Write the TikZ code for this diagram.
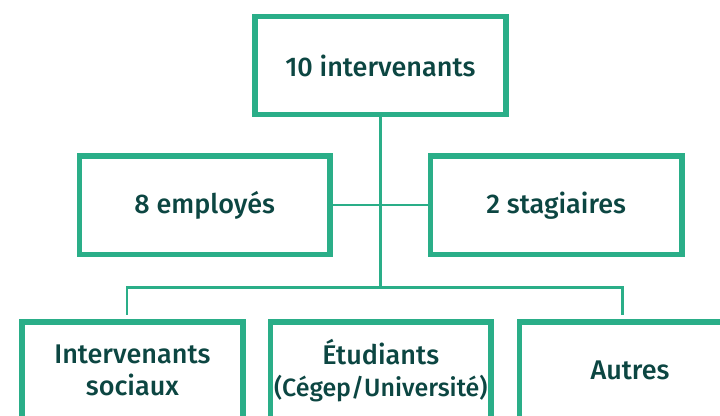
\documentclass[tikz,border=0pt]{standalone}
\usepackage{fontspec}
\setmainfont{Fira Sans Medium}
\definecolor{boxgreen}{RGB}{42,174,136}
\definecolor{txtdark}{RGB}{12,70,66}
\begin{document}
\begin{tikzpicture}[x=1pt,y=1pt,
  orgbox/.style={draw=boxgreen, line width=5.5pt, fill=white, inner sep=0pt,
    align=center, text=txtdark, font=\fontsize{27}{32}\selectfont},
  link/.style={draw=boxgreen, line width=2.5pt}]
\useasboundingbox (0,0) rectangle (720,415);
\clip (0,0) rectangle (720,415);
% top
\node[orgbox, minimum width=251pt, minimum height=98pt] (top) at (380.4,349.5) {10 intervenants};
% middle
\node[orgbox, minimum width=250.5pt, minimum height=98.5pt] (emp) at (204.75,209.75) {8 employés};
\node[orgbox, minimum width=251.5pt, minimum height=98.5pt] (stag) at (556.25,209.75) {2 stagiaires};
% connectors
\coordinate (barL) at (127,127.5);
\coordinate (barM) at (380.4,127.5);
\coordinate (barR) at (622.5,127.5);
\draw[link] (top.south) -- (barM);
\draw[link] (emp.east) -- (stag.west);
\draw[link] (barL |- 0,100) -- (barL) -- (barR) -- (barR |- 0,100);
% bottom
\node[orgbox, minimum width=221pt, minimum height=98pt] (soc) at (132.4,44.2) {Intervenants\\sociaux};
\node[orgbox, minimum width=220.5pt, minimum height=98pt] (etu) at (380.75,44.2) {Étudiants\\{\fontsize{25}{32}\selectfont (Cégep/Université)}};
\node[orgbox, minimum width=221pt, minimum height=98pt] (aut) at (630,44.2) {Autres};
\end{tikzpicture}
\end{document}
